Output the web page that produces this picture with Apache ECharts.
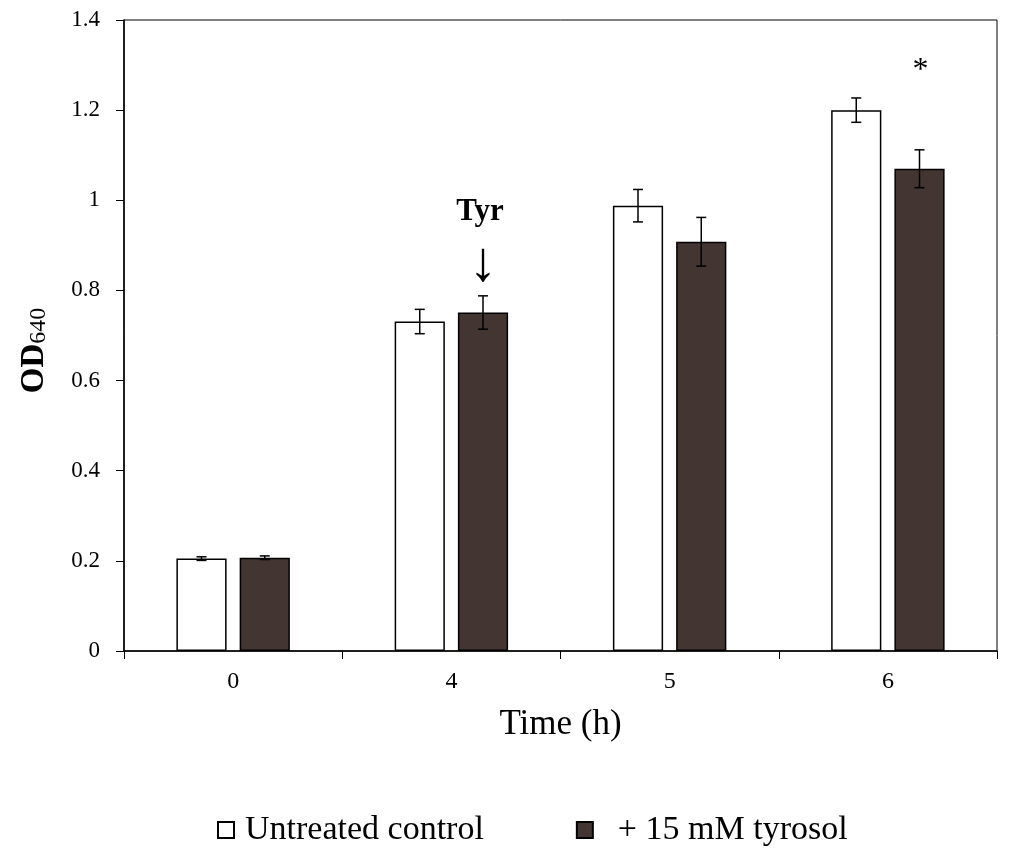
<!DOCTYPE html>
<html>
<head>
<meta charset="utf-8">
<script src="https://cdn.jsdelivr.net/npm/echarts@6/dist/echarts.min.js"></script>
<style>html,body{margin:0;padding:0;background:#fff}#c{width:1009px;height:851px}</style>
</head>
<body>
<div id="c"></div>
<script>
const categories = ['0', '4', '5', '6'];
const controlValues = [0.205, 0.731, 0.988, 1.200];
const controlErrors = [0.004, 0.027, 0.036, 0.027];
const tyrosolValues = [0.207, 0.751, 0.908, 1.070];
const tyrosolErrors = [0.004, 0.037, 0.054, 0.042];
const yTicks = { min: 0, max: 1.4, interval: 0.2 };
const seriesNames = ['Untreated control', '+ 15 mM tyrosol'];

const FONT = '"Liberation Serif", "Times New Roman", serif';
const DARK = '#433531';

const chart = echarts.init(document.getElementById('c'));

function errorSeries(values, errors, offsetFrac) {
  return {
    type: 'custom',
    z: 10,
    silent: true,
    data: values.map((v, i) => [i, v - errors[i], v + errors[i]]),
    renderItem: function (params, api) {
      const idx = api.value(0);
      const lo = api.coord([idx, api.value(1)]);
      const hi = api.coord([idx, api.value(2)]);
      const band = api.size([1, 0])[0];
      const x = lo[0] + band * offsetFrac;
      const cap = 5;
      const style = { stroke: '#000', lineWidth: 1.5 };
      return {
        type: 'group',
        children: [
          { type: 'line', shape: { x1: x, y1: lo[1], x2: x, y2: hi[1] }, style },
          { type: 'line', shape: { x1: x - cap, y1: lo[1], x2: x + cap, y2: lo[1] }, style },
          { type: 'line', shape: { x1: x - cap, y1: hi[1], x2: x + cap, y2: hi[1] }, style }
        ]
      };
    }
  };
}

const barWidthFrac = 0.23;
const gapFrac = 0.26;
const half = (barWidthFrac * 2 + barWidthFrac * gapFrac) / 2;
const off1 = -half + barWidthFrac / 2;
const off2 = half - barWidthFrac / 2;

chart.setOption({
  animation: false,
  backgroundColor: '#fff',
  grid: { left: 124, right: 12, top: 20, bottom: 200, show: true, borderColor: '#000', borderWidth: 1 },
  legend: {
    top: 808,
    left: 212,
    itemWidth: 16,
    itemHeight: 16,
    itemGap: 92,
    icon: 'rect',
    textStyle: { fontFamily: FONT, fontSize: 34, color: '#000' },
    data: [
      { name: seriesNames[0], textStyle: { padding: [0, 0, 0, 6] } },
      { name: seriesNames[1], textStyle: { padding: [0, 0, 0, 20] } }
    ]
  },
  xAxis: {
    type: 'category',
    data: categories,
    name: 'Time (h)',
    nameLocation: 'middle',
    nameGap: 56,
    nameTextStyle: { fontFamily: FONT, fontSize: 35, color: '#000' },
    axisLine: { lineStyle: { color: '#000', width: 1.5 } },
    axisTick: { show: true, length: 8, lineStyle: { color: '#000' } },
    axisLabel: { fontFamily: FONT, fontSize: 24, color: '#000', margin: 19 }
  },
  yAxis: {
    type: 'value',
    min: yTicks.min,
    max: yTicks.max,
    interval: yTicks.interval,
    name: '{a|OD}{b|640}',
    nameLocation: 'middle',
    nameGap: 73,
    nameTextStyle: {
      padding: [0, 30, 0, 0],
      rich: {
        a: { fontFamily: FONT, fontSize: 33, fontWeight: 'bold', color: '#000', verticalAlign: 'bottom', lineHeight: 34 },
        b: { fontFamily: FONT, fontSize: 24, color: '#000', verticalAlign: 'bottom', lineHeight: 26, padding: [10, 0, 0, 0] }
      }
    },
    splitLine: { show: false },
    axisLine: { show: true, lineStyle: { color: '#000', width: 1.5 } },
    axisTick: { show: true, length: 8, lineStyle: { color: '#000' } },
    axisLabel: { fontFamily: FONT, fontSize: 23, color: '#000', margin: 24 }
  },
  series: [
    {
      name: seriesNames[0],
      type: 'bar',
      data: controlValues,
      barWidth: (barWidthFrac * 100) + '%',
      barGap: (gapFrac * 100) + '%',
      itemStyle: { color: '#fff', borderColor: '#000', borderWidth: 1.5 }
    },
    {
      name: seriesNames[1],
      type: 'bar',
      data: tyrosolValues,
      barWidth: (barWidthFrac * 100) + '%',
      barGap: (gapFrac * 100) + '%',
      itemStyle: { color: DARK, borderColor: '#000', borderWidth: 1.5 },
      markPoint: {
        symbol: 'circle',
        symbolSize: 0,
        silent: true,
        data: [
          { coord: ['4', 0.973], label: { show: true, formatter: 'Tyr', fontFamily: FONT, fontSize: 31, fontWeight: 'bold', color: '#000', offset: [-3, 0] } },
          { coord: ['4', 0.855], label: { show: true, formatter: '↓', fontFamily: '"Liberation Serif", "DejaVu Serif", serif', fontSize: 56, color: '#000', offset: [0, 0] } },
          { coord: ['6', 1.288], label: { show: true, formatter: '*', fontFamily: FONT, fontSize: 32, color: '#000', offset: [1, 0] } }
        ]
      }
    },
    errorSeries(controlValues, controlErrors, off1),
    errorSeries(tyrosolValues, tyrosolErrors, off2)
  ]
});
</script>
</body>
</html>
